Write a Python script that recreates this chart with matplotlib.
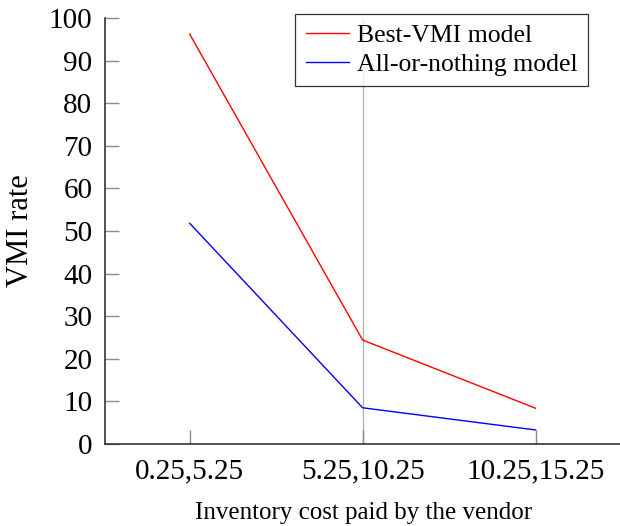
import numpy as np
import matplotlib
matplotlib.use("Agg")
from matplotlib import pyplot as plt

# cost brackets paid by the vendor and VMI adoption rate (%)
categories = ["0.25,5.25", "5.25,10.25", "10.25,15.25"]
best_vmi = [96.2, 24.4, 8.4]
all_or_nothing = [51.8, 8.5, 3.3]
y_ticks = [0, 10, 20, 30, 40, 50, 60, 70, 80, 90, 100]

plt.rcParams["font.family"] = ["Liberation Serif", "DejaVu Serif"]

fig = plt.figure(figsize=(6.2, 5.26), dpi=100)
ax = fig.add_axes([105 / 620, 82 / 526, 517 / 620, 426 / 526])

x = np.arange(len(categories))
ax.axvline(x[1], color="#b4b4b4", lw=1.0, zorder=1)
ax.plot(x, best_vmi, color="red", lw=1.0, label="Best-VMI model", zorder=3)
ax.plot(x, all_or_nothing, color="blue", lw=1.0, label="All-or-nothing model", zorder=3)

ax.set_xlim(-0.49, 2.5)
ax.set_ylim(0, 100)
ax.set_xticks(x)
ax.set_xticklabels(categories)
ax.set_yticks(y_ticks)

for side in ["top", "right"]:
    ax.spines[side].set_visible(False)
for side in ["left", "bottom"]:
    ax.spines[side].set_color("#333333")
    ax.spines[side].set_linewidth(1.2)

ax.tick_params(axis="both", direction="in", length=10, width=1.0,
               color="#8c8c8c", labelsize=21)
ax.tick_params(axis="x", pad=10)
ax.tick_params(axis="y", pad=9)

ax.set_ylabel("VMI rate", fontsize=22, labelpad=10)
ax.set_xlabel("Inventory cost paid by the vendor", fontsize=18, labelpad=13)

leg = ax.legend(loc="upper right", bbox_to_anchor=(0.934, 1.009), fontsize=18.5,
                frameon=True, fancybox=False, edgecolor="black",
                handlelength=1.7, handletextpad=0.3, borderpad=0.4,
                labelspacing=0.2, borderaxespad=0)
leg.get_frame().set_linewidth(0.9)
leg.set_zorder(5)

fig.savefig("out.png", dpi=100)
